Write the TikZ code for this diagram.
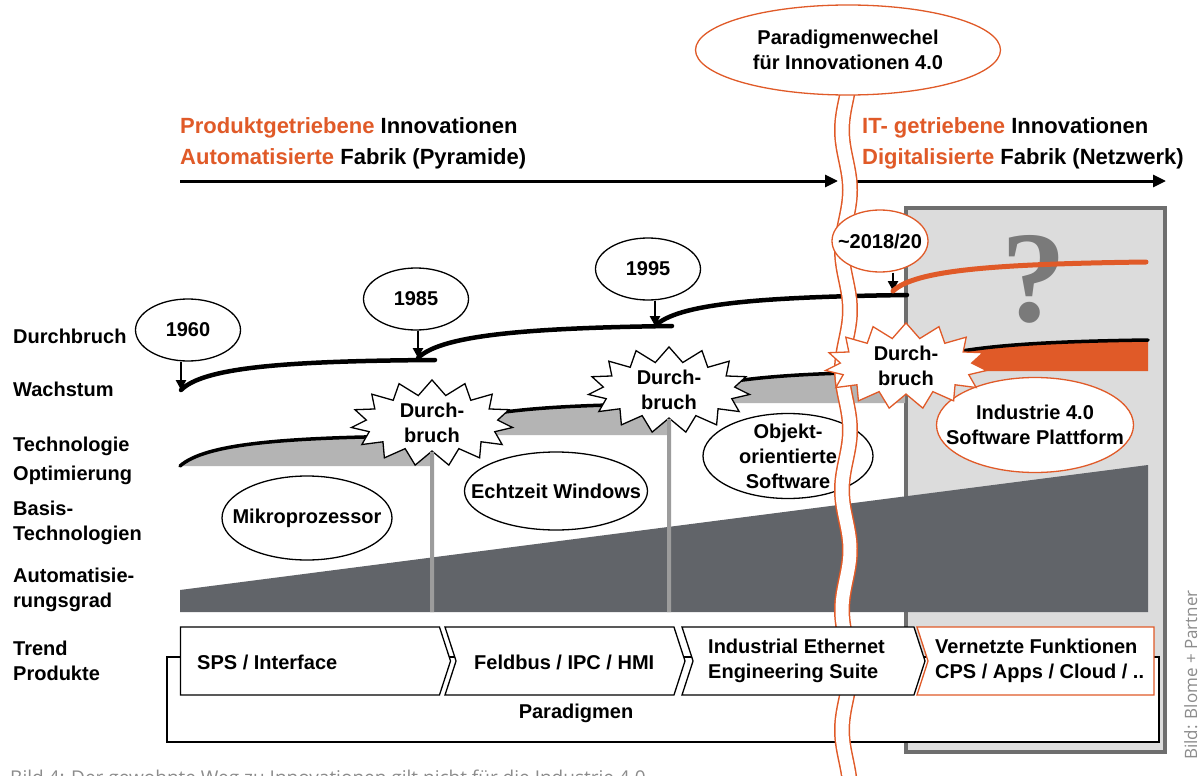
\documentclass[tikz,border=0pt]{standalone}
\usepackage{fontspec}
\setmainfont{Liberation Sans}
\newfontfamily\qmarkfont{Liberation Serif}
\newfontfamily\captionfont{Open Sans}
\usepackage{tikz}
\usetikzlibrary{positioning,arrows.meta,shapes.geometric,shapes.symbols,shapes.arrows}
\definecolor{IOrange}{HTML}{E05A28}
\definecolor{IDark}{HTML}{616469}
\definecolor{ITech}{HTML}{B4B4B4}
\definecolor{IRule}{HTML}{9C9C9C}
\definecolor{IPanel}{HTML}{DCDCDC}
\definecolor{IFrame}{HTML}{6E6E6E}
\definecolor{IQuest}{HTML}{7A7A7A}
\definecolor{ICaption}{HTML}{8C8C8C}
\newcommand{\bodyfont}{\fontsize{20}{25}\selectfont\bfseries}
\newcommand{\headfont}{\fontsize{22}{31}\selectfont\bfseries}

\begin{document}
\begin{tikzpicture}[x=1pt,y=-1pt,
  lbl/.style={font=\bodyfont,inner sep=0pt,align=left},
  headline/.style={font=\headfont,inner sep=0pt,anchor=base west},
  bubble/.style={ellipse,draw,fill=white,line width=1.3pt,font=\bodyfont,align=center,inner sep=-40pt},
  burst/.style={starburst,starburst points=15,starburst point height=15pt,random starburst=0,draw,fill=white,line width=1.3pt,font=\bodyfont,align=center,minimum width=162pt,minimum height=80pt,inner sep=0pt},
  growth/.style={line width=4.5pt,line cap=round},
  techline/.style={line width=3.5pt,line cap=round},
  drop/.style={line width=2.5pt,-{Triangle[length=10pt,width=10pt]}},
  timeline/.style={line width=3pt,-{Triangle[length=13pt,width=12pt]}},
  rule/.style={IRule,line width=4pt},
  trend/.style={signal,draw,fill=white,line width=1.3pt,signal pointer angle=144,minimum height=68pt,inner sep=0pt},
]
  \fill[white] (0,0) rectangle (1200,776);
  \useasboundingbox (0,0) rectangle (1200,776);

  % right panel
  \node[draw=IFrame,fill=IPanel,line width=4pt,minimum width=259pt,minimum height=544pt,inner sep=0pt] (panel) at (1035.5,480) {};
  \node[text=IQuest,font={\qmarkfont\bfseries\fontsize{130}{130}\selectfont},inner sep=0pt] (quest) at (1034,279) {?};

  % headlines and time arrows
  \node[headline] (prodhead) at (180,133) {\textcolor{IOrange}{Produktgetriebene} Innovationen};
  \node[headline] (autohead) at (180,164) {\textcolor{IOrange}{Automatisierte} Fabrik (Pyramide)};
  \node[headline] (ithead) at (862,133) {\textcolor{IOrange}{IT- getriebene} Innovationen};
  \node[headline] (digihead) at (862,164) {\textcolor{IOrange}{Digitalisierte} Fabrik (Netzwerk)};
  \coordinate (t1s) at (180,181);
  \coordinate (t1e) at (838,181);
  \coordinate (t2s) at (857,181);
  \coordinate (t2e) at (1166,181);
  \draw[timeline] (t1s) -- (t1e);
  \draw[timeline] (t2s) -- (t2e);

  % trend products
  \node[draw,fill=white,line width=1.3pt,minimum width=992pt,minimum height=85pt,inner sep=0pt] (paradigm) at (663,699.5) {};
  \node[trend,signal to=east,signal from=nowhere,minimum width=270pt] (sps) at (310,661) {};
  \node[trend,signal to=east,signal from=west,minimum width=240pt] (feld) at (565,661) {};
  \node[trend,signal to=nowhere,signal from=west,minimum width=237pt,draw=IOrange] (netz) at (1041,661) {};

  % degree of automation
  \fill[IDark] (180,612) -- (180,590) -- (1148,465) -- (1148,612) -- cycle;

  % technology optimisation
  \fill[ITech] (180,466) .. controls (205,444) and (280,437) .. (432,436) -- (432,466) -- cycle;
  \fill[ITech] (432,435) .. controls (457,413) and (530,405) .. (669,404) -- (669,435) -- cycle;
  \fill[ITech] (669,403) .. controls (694,381) and (770,373) .. (905,372) -- (905,403) -- cycle;
  \fill[IOrange] (905,371) .. controls (930,350) and (1000,342) .. (1148,340) -- (1148,371) -- cycle;
  \draw[techline] (180,466) .. controls (205,444) and (280,437) .. (432,436);
  \draw[techline] (432,435) .. controls (457,413) and (530,405) .. (669,404);
  \draw[techline] (669,403) .. controls (694,381) and (770,373) .. (905,372);
  \draw[techline] (905,371) .. controls (930,350) and (1000,342) .. (1148,340);

  % growth
  \foreach \n/\x/\y/\gx/\gy in {1960/188/330/181/390,1985/416/299/418/358,1995/648/269/655/326} {
    \node[bubble,minimum width=105pt,minimum height=62pt] (y\n) at (\x,\y) {\n};
    \coordinate (g\n) at (\gx,\gy);
    \draw[drop] (y\n.south -| g\n) -- (g\n);
  }
  \draw[growth] (g1960) .. controls (203,368) and (280,361) .. (435,360);
  \draw[growth] (g1985) .. controls (440,336) and (520,328) .. (672,326);
  \draw[growth] (g1995) .. controls (677,304) and (757,297) .. (907,295);

  % base technologies
  \node[bubble,minimum width=170pt,minimum height=84pt] (mikro) at (307,518) {Mikroprozessor};
  \node[bubble,minimum width=183pt,minimum height=78pt] (echtzeit) at (556,491) {Echtzeit Windows};
  \node[bubble,minimum width=170pt,minimum height=85pt] (objekt) at (788,456) {Objekt-\\orientierte\\Software};

  \node[burst] (burst1) at (432,423) {Durch-\\bruch};
  \node[burst] (burst2) at (669,390) {Durch-\\bruch};
  \coordinate (floor1) at (432,612);
  \coordinate (floor2) at (669,612);
  \draw[rule] (burst1.south) -- (floor1);
  \draw[rule] (burst2.south) -- (floor2);

  % paradigm shift
  \draw[IOrange,line width=1.5pt,double=white,double distance=13pt] plot[domain=90:790,samples=120,smooth] ({846+4*sin((\x-400)*3.0)},\x);
  \node[trend,signal to=east,signal from=west,minimum width=243pt] (ether) at (803.5,661) {};
  \node[bubble,draw=IOrange,minimum width=305pt,minimum height=90pt] (shift) at (848,50) {Paradigmenwechel\\für Innovationen 4.0};

  \node[bubble,draw=IOrange,minimum width=96pt,minimum height=62pt] (y2018) at (880,241) {\textasciitilde2018/20};
  \coordinate (g2018) at (893,291);
  \draw[drop] (y2018.south -| g2018) -- (g2018);
  \draw[growth,IOrange,line width=5pt] (g2018) .. controls (915,270) and (995,264) .. (1146,262);

  \node[bubble,draw=IOrange,minimum width=197pt,minimum height=95pt] (plattform) at (1035,425) {Industrie 4.0\\Software Plattform};
  \node[burst,draw=IOrange] (burst4) at (906,366) {Durch-\\bruch};

  % texts
  \foreach \y/\t [count=\i] in {336/Durchbruch,389/Wachstum,461/{Technologie\\[4pt]Optimierung},523/{Basis-\\Technologien},590/{Automatisie-\\rungsgrad},661/{Trend\\Produkte}} {
    \node[lbl,anchor=west] (side\i) at (13,\y) {\t};
  }
  \node[lbl,anchor=west] (tsps) at (197,662) {SPS / Interface};
  \node[lbl,anchor=west] (tfeld) at (474,662) {Feldbus / IPC / HMI};
  \node[lbl,anchor=west] (tether) at (708,661) {Industrial Ethernet\\Engineering Suite};
  \node[lbl,anchor=west] (tnetz) at (935,661) {Vernetzte Funktionen\\CPS / Apps / Cloud / ..};
  \node[lbl] (tparadigm) at (576,713) {Paradigmen};

  \node[font={\captionfont\fontsize{19}{19}\selectfont},text=ICaption,anchor=base west,inner sep=0pt] (caption) at (10,784) {Bild 4: Der gewohnte Weg zu Innovationen gilt nicht für die Industrie 4.0};
  \node[font={\captionfont\fontsize{17}{17}\selectfont},text=ICaption,rotate=90,anchor=base,inner sep=0pt] (credit) at (1197,675) {Bild: Blome + Partner};
\end{tikzpicture}
\end{document}
